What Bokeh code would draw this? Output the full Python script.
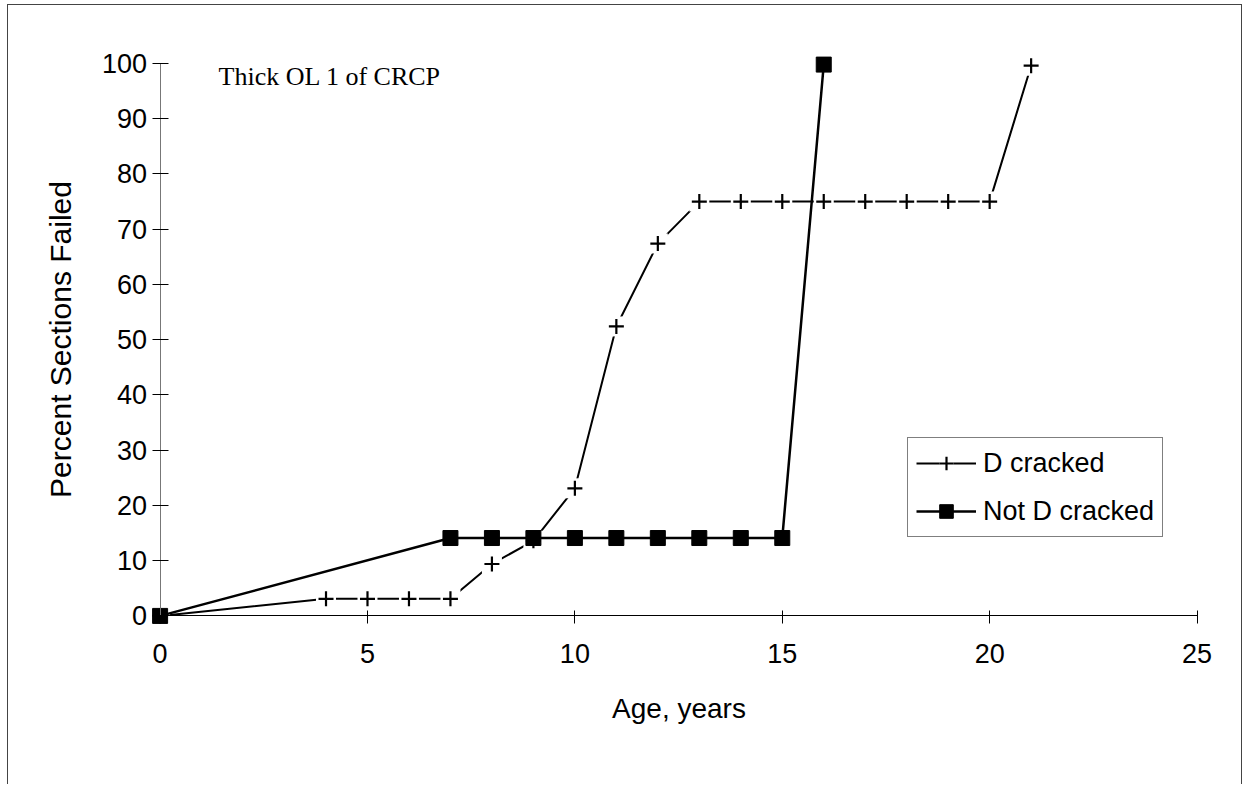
from bokeh.plotting import figure
from bokeh.models import (Range1d, LinearAxis, SingleIntervalTicker, Label,
                          Legend, LegendItem, ColumnDataSource)
from bokeh.embed import file_html
from bokeh.resources import INLINE

# ---- data ----
d_age = [0, 4, 5, 6, 7, 8, 9, 10, 11, 12, 13, 14, 15, 16, 17, 18, 19, 20, 21]
d_pct = [0, 3.1, 3.1, 3.1, 3.1, 9.4, 13.6, 23.1, 52.4, 67.4, 75, 75, 75, 75, 75, 75, 75, 75, 99.6]
nd_age = [0, 7, 8, 9, 10, 11, 12, 13, 14, 15, 16]
nd_pct = [0, 14.1, 14.1, 14.1, 14.1, 14.1, 14.1, 14.1, 14.1, 14.1, 99.8]
series_names = ["D cracked", "Not D cracked"]
x_ticks_interval = 5
y_ticks_interval = 10
chart_note = "Thick OL 1 of CRCP"
x_title = "Age, years"
y_title = "Percent Sections Failed"

SANS = "Liberation Sans"
SERIF = "Liberation Serif"

p = figure(width=1235, height=780,
           x_range=Range1d(-3.655, 26.12), y_range=Range1d(-30.7, 110.5),
           output_backend="svg", toolbar_location=None,
           x_axis_location=None, y_axis_location=None,
           min_border_left=0, min_border_right=0,
           min_border_top=0, min_border_bottom=0)
p.outline_line_color = None
p.xgrid.visible = False
p.ygrid.visible = False
p.background_fill_color = "white"
p.border_fill_color = "white"
p.styles = {"margin-left": "7px", "margin-top": "4px",
            "border-left": "1px solid #444", "border-top": "1px solid #444",
            "border-right": "1px solid #444"}

# axes drawn at data zero
xaxis = LinearAxis(ticker=SingleIntervalTicker(interval=x_ticks_interval),
                   fixed_location=0, bounds=(0, 25), axis_label=x_title)
yaxis = LinearAxis(ticker=SingleIntervalTicker(interval=y_ticks_interval),
                   fixed_location=0, bounds=(0, 100), axis_label=y_title)
for ax in (xaxis, yaxis):
    ax.major_label_text_font = SANS
    ax.major_label_text_font_size = "27px"
    ax.major_label_text_color = "black"
    ax.axis_label_text_font = SANS
    ax.axis_label_text_font_style = "normal"
    ax.axis_label_text_color = "black"
    ax.minor_tick_line_color = None
    ax.major_tick_line_color = "black"
    ax.major_tick_line_width = 1
xaxis.axis_label_text_font_size = "28px"
yaxis.axis_label_text_font_size = "30px"
xaxis.axis_line_color = "black"
xaxis.axis_line_width = 1
xaxis.major_tick_in = 5
xaxis.major_tick_out = 8
xaxis.major_label_standoff = 20
xaxis.axis_label_standoff = 27
yaxis.axis_line_color = "#777777"
yaxis.axis_line_width = 1
yaxis.major_tick_in = 8
yaxis.major_tick_out = 8
yaxis.major_label_standoff = 5
yaxis.axis_label_standoff = 22
p.add_layout(xaxis, "below")
p.add_layout(yaxis, "left")

d_src = ColumnDataSource(dict(x=d_age, y=d_pct))
nd_src = ColumnDataSource(dict(x=nd_age, y=nd_pct))

# D cracked: line with gaps around markers
d_line = p.line("x", "y", source=d_src, line_color="black", line_width=2)
d_mask = p.scatter("x", "y", source=d_src, marker="square", size=20,
                   fill_color="white", line_color=None)
# Not D cracked
nd_line = p.line("x", "y", source=nd_src, line_color="black", line_width=2.5)
nd_sq = p.scatter("x", "y", source=nd_src, marker="square", size=15,
                  fill_color="black", line_color="black", line_width=1)
d_cross = p.scatter("x", "y", source=d_src, marker="cross", size=15,
                    line_color="black", line_width=2.2)

note = Label(x=1.41, y=97.6, text=chart_note, text_font=SERIF,
             text_font_size="26px", text_color="black",
             text_baseline="alphabetic", text_align="left")
p.add_layout(note)

legend = Legend(items=[
    LegendItem(label=series_names[0], renderers=[d_line, d_mask, d_cross]),
    LegendItem(label=series_names[1], renderers=[nd_line, nd_sq]),
], location=(899, 248))
legend.label_text_font = SANS
legend.label_text_font_size = "27px"
legend.label_text_color = "black"
legend.glyph_width = 60
legend.glyph_height = 34
legend.label_height = 34
legend.label_standoff = 7
legend.spacing = 14
legend.padding = 8
legend.margin = 0
legend.border_line_color = "black"
legend.border_line_width = 1
legend.background_fill_color = "white"
legend.background_fill_alpha = 1
p.add_layout(legend, "center")

open("out.html", "w").write(file_html(p, INLINE))
